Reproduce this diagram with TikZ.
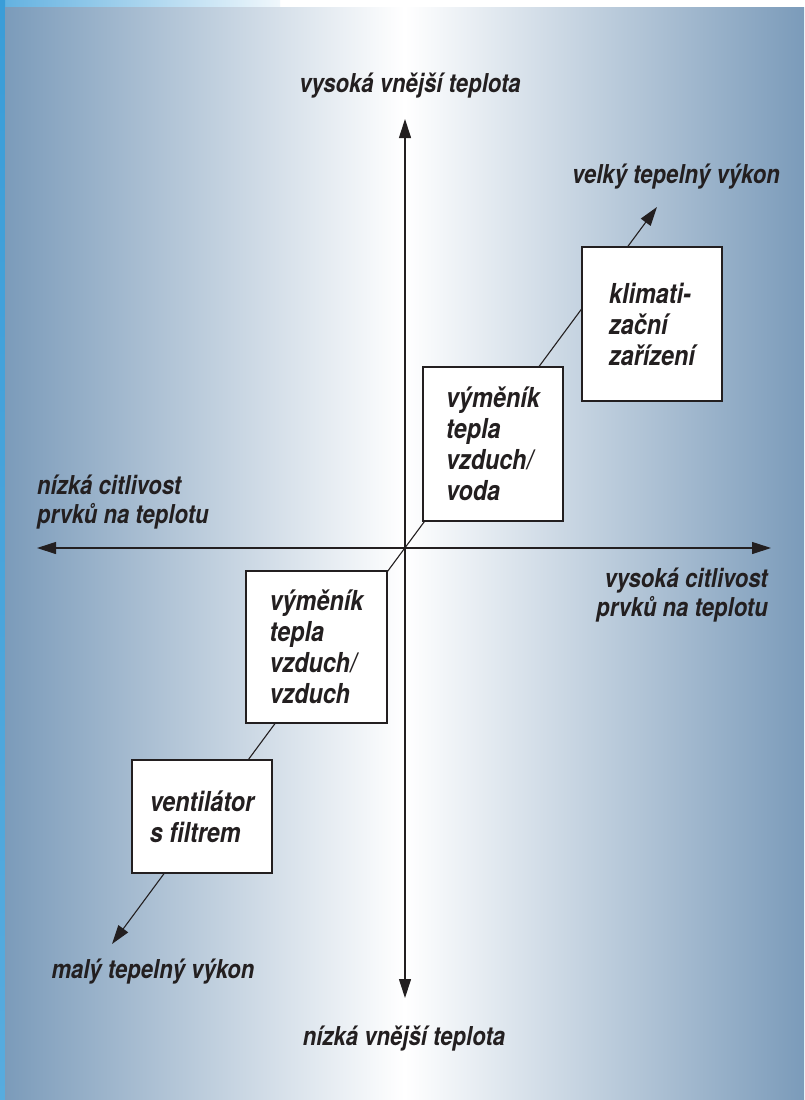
\documentclass[tikz,border=0pt]{standalone}
\usepackage{fontspec}
\setmainfont{TeX Gyre Heros}[FakeStretch=0.85]
\usepackage{tikz}
\usetikzlibrary{positioning, arrows.meta}

\definecolor{panelblue}{RGB}{123,155,186}
\definecolor{stripblue}{RGB}{58,157,216}
\definecolor{ink}{RGB}{35,31,32}
\newcommand{\lbltxt}{\fontsize{26}{29}\selectfont\bfseries\itshape}
\newcommand{\boxtxt}{\fontsize{27.5}{31}\selectfont\bfseries\itshape}

\begin{document}
\begin{tikzpicture}[x=1pt, y=-1pt,
    >={Triangle[length=19pt, width=12pt]},
    ax/.style={draw=ink, line width=1.1pt},
    lbl/.style={text=ink, font=\lbltxt, inner sep=0pt},
    unit/.style={draw=ink, fill=white, line width=1.2pt, text=ink, font=\boxtxt,
        align=left, minimum width=140pt, minimum height=154pt}]
    \useasboundingbox (0,0) rectangle (804,1100);
    % background
    \fill[white] (0,0) rectangle (804,7);
    \shade[left color=stripblue!80, right color=stripblue!8] (0,0) rectangle (280,7);
    \shade[top color=stripblue, bottom color=stripblue!85] (0,0) rectangle (5,1100);
    \shade[left color=panelblue, right color=panelblue, middle color=white] (5,7) rectangle (804,1100);
    % axes
    \coordinate (o) at (405,548);
    \coordinate (hiTemp) at (405,119);
    \coordinate (loTemp) at (405,998);
    \coordinate (loSens) at (37,548);
    \coordinate (hiSens) at (771,548);
    \draw[ax, ->] (o) -- (hiTemp);
    \draw[ax, ->] (o) -- (loTemp);
    \draw[ax, ->] (o) -- (loSens);
    \draw[ax, ->] (o) -- (hiSens);
    % heat output diagonal
    \coordinate (loPow) at (112,944);
    \coordinate (hiPow) at (657,207);
    \draw[ax, <->] (loPow) -- (hiPow);
    % units
    \node[unit] (aircon) at (652,324) {klimati-\\zační\\zařízení};
    \node[unit] (hxWater) at (493,444) {výměník\\tepla\\vzduch/\\voda};
    \node[unit, minimum width=141pt, minimum height=152pt] (hxAir) at (316.5,647) {výměník\\tepla\\vzduch/\\vzduch};
    \node[unit, minimum height=113pt] (fan) at (202,816.5) {ventilátor\\s filtrem};
    % labels
    \node[lbl, anchor=base] (hiTempLbl) at (410,92) {vysoká vnější teplota};
    \node[lbl, anchor=base] (loTempLbl) at (404,1045) {nízká vnější teplota};
    \node[lbl, anchor=base] (hiPowLbl) at (676,183) {velký tepelný výkon};
    \node[lbl, anchor=base] (loPowLbl) at (153,978) {malý tepelný výkon};
    \node[lbl, align=left, anchor=base west] (loSensLbl) at (37,523) {nízká citlivost\\prvků na teplotu};
    \node[lbl, align=right, anchor=base east] (hiSensLbl) at (768,616) {vysoká citlivost\\prvků na teplotu};
\end{tikzpicture}
\end{document}
